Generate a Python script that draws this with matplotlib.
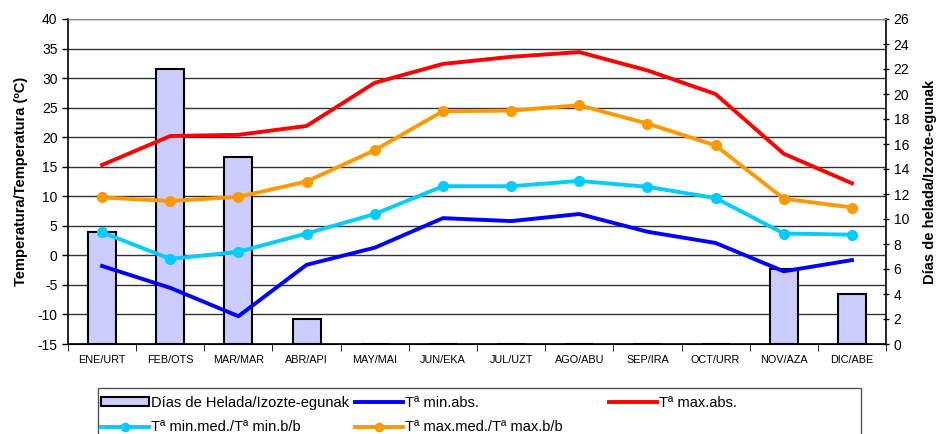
import matplotlib
matplotlib.use("Agg")
import matplotlib.pyplot as plt
from matplotlib.patches import Rectangle
from matplotlib import font_manager

# === Data ===
months = ["ENE/URT", "FEB/OTS", "MAR/MAR", "ABR/API", "MAY/MAI", "JUN/EKA",
          "JUL/UZT", "AGO/ABU", "SEP/IRA", "OCT/URR", "NOV/AZA", "DIC/ABE"]
frost_days = [9, 22, 15, 2, 0, 0, 0, 0, 0, 0, 6, 4]
t_min_abs = [-1.8, -5.5, -10.3, -1.6, 1.3, 6.3, 5.8, 7.0, 4.0, 2.1, -2.7, -0.8]
t_max_abs = [15.3, 20.2, 20.4, 21.9, 29.2, 32.4, 33.6, 34.4, 31.3, 27.3, 17.2, 12.2]
t_min_med = [3.9, -0.6, 0.6, 3.7, 7.0, 11.7, 11.7, 12.6, 11.6, 9.7, 3.7, 3.5]
t_max_med = [9.8, 9.2, 9.9, 12.5, 17.8, 24.4, 24.5, 25.4, 22.3, 18.6, 9.6, 8.1]

temp_ticks = list(range(-15, 41, 5))
day_ticks = list(range(0, 27, 2))

names = {f.name for f in font_manager.fontManager.ttflist}
base_font = "Liberation Sans" if "Liberation Sans" in names else "DejaVu Sans"
plt.rcParams["font.family"] = [base_font, "DejaVu Sans"]
plt.rcParams["axes.unicode_minus"] = False

W, H = 937, 434
fig = plt.figure(figsize=(W / 100, H / 100), dpi=100)
ax = fig.add_axes([68 / W, 1 - 344 / H, (886 - 68) / W, (344 - 19) / H])
ax2 = ax.twinx()
ax3 = ax.twinx()

x = list(range(len(months)))

# temperature axis with grid (bottom layer)
ax.set_xlim(-0.5, len(months) - 0.5)
ax.set_ylim(-15, 40)
ax.set_yticks(temp_ticks)
ax.tick_params(axis="y", labelsize=10, length=4, direction="out", width=1)
ax.grid(axis="y", color="#333333", linewidth=1)
ax.set_axisbelow(True)
ax.set_xticks(x)
ax.set_xticklabels(months, fontsize=7.8)
ax.set_xticks([i - 0.5 for i in range(len(months) + 1)], minor=True)
ax.tick_params(axis="x", which="major", length=0, pad=8)
ax.tick_params(axis="x", which="minor", length=5, direction="out")
ax.set_ylabel("Temperatura/Temperatura (ºC)", fontsize=10.5, fontweight="bold", labelpad=7)
for side in ["top", "right"]:
    ax.spines[side].set_visible(False)
ax.spines["left"].set_linewidth(1.2)
ax.spines["bottom"].set_linewidth(1.2)

# frost days axis (bars)
ax2.bar(x, frost_days, width=0.41, color="#CCCCFF", edgecolor="black", linewidth=1.5,
        label="Días de Helada/Izozte-egunak")
ax2.set_ylim(0, 26)
ax2.set_yticks(day_ticks)
ax2.tick_params(axis="y", labelsize=10, length=4, direction="inout", width=1)
ax2.set_ylabel("Días de helada/Izozte-egunak", fontsize=10.5, fontweight="bold", labelpad=10)
ax2.spines["top"].set_color("#888888")
ax2.spines["left"].set_visible(False)
ax2.spines["right"].set_linewidth(1.2)

# lines on top
ax3.set_ylim(-15, 40)
ax3.axis("off")
ax3.plot(x, t_min_abs, color="#0000FF", linewidth=2.8, label="Tª min.abs.")
ax3.plot(x, t_max_abs, color="#FF0000", linewidth=2.8, label="Tª max.abs.")
ax3.plot(x, t_min_med, color="#00CCFF", linewidth=2.8, marker="o", markersize=7,
         label="Tª min.med./Tª min.b/b")
ax3.plot(x, t_max_med, color="#FF9900", linewidth=2.8, marker="o", markersize=7,
         label="Tª max.med./Tª max.b/b")

# legend: one frame, three columns placed like the original
h2, l2 = ax2.get_legend_handles_labels()
h3, l3 = ax3.get_legend_handles_labels()
columns = [
    (98, [h2[0], h3[2]], [l2[0], l3[2]]),
    (352, [h3[0], h3[3]], [l3[0], l3[3]]),
    (606, [h3[1]], [l3[1]]),
]
for x_px, hs, ls in columns:
    lg = fig.legend(hs, ls, loc="upper left", bbox_to_anchor=(x_px / W, 1 - 393 / H),
                    frameon=False, fontsize=10.5, handlelength=3.3, handletextpad=0.15,
                    borderaxespad=0, borderpad=0.2, labelspacing=0.72, handleheight=0.6,
                    markerscale=0.85)

fig.patches.append(Rectangle((98 / W, -0.05), (861 - 98) / W, (434 - 388) / H + 0.05,
                             transform=fig.transFigure, fill=False,
                             edgecolor="#555555", linewidth=1))

plt.savefig("out.png", dpi=100)
